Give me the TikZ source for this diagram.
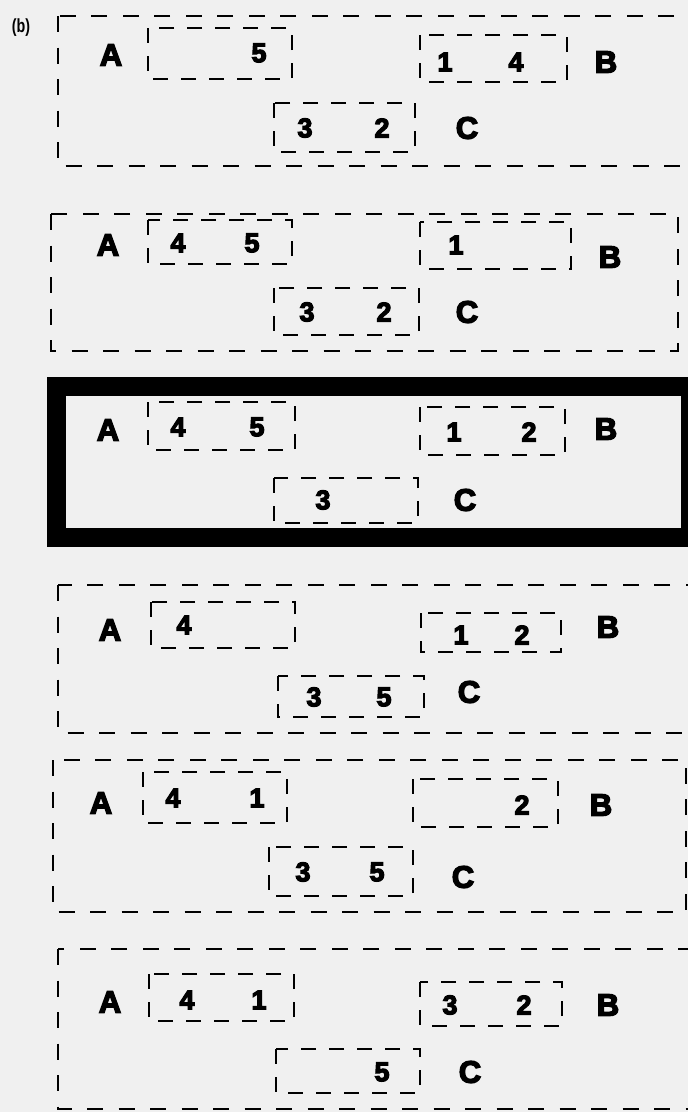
\documentclass[tikz,border=0pt]{standalone}
\usepackage{fontspec}
\setmainfont{Liberation Sans}
\newfontfamily\heavyfont[FakeBold=4.5]{Liberation Sans}
\usetikzlibrary{positioning}
\definecolor{paper}{RGB}{240,240,240}
\tikzset{
  outer/.style={line width=2.8pt, dash pattern=on 16pt off 15.5pt},
  inner/.style={line width=2.6pt, dash pattern=on 15pt off 13pt},
  heavy/.style={line width=18.5pt},
  letter/.style={font=\heavyfont\bfseries\fontsize{31}{31}\selectfont, inner sep=0pt},
  digit/.style={font=\heavyfont\bfseries\fontsize{27}{27}\selectfont, inner sep=0pt},
}

\begin{document}
\begin{tikzpicture}[x=1pt,y=-1pt]
  \fill[paper] (0,0) rectangle (688,1112);
  \useasboundingbox (0,0) rectangle (688,1112);
  \clip (0,0) rectangle (688,1112);

  \node[font=\bfseries\fontsize{19}{19}\selectfont, inner sep=0pt] (tag) at (21,28) {\scalebox{0.75}[1]{(b)}};

  % panel 1
  \draw[outer] (58,16) rectangle (720,166);
  \node[letter] (A1) at (111,55) {A};
  \node[letter] (B1) at (606,62) {B};
  \node[letter] (C1) at (467,128) {C};
  \draw[inner] (148,28) rectangle (292,79);
  \draw[inner] (420,35) rectangle (567,82);
  \draw[inner] (274,103) rectangle (415,152);
  \node[digit] (p1a5) at (259,53) {5};
  \node[digit] (p1b1) at (445,62) {1};
  \node[digit] (p1b4) at (516,62) {4};
  \node[digit] (p1c3) at (305,128) {3};
  \node[digit] (p1c2) at (382,128) {2};

  % panel 2
  \draw[outer] (51,214) rectangle (678,351);
  \node[letter] (A2) at (108,245) {A};
  \node[letter] (B2) at (610,257) {B};
  \node[letter] (C2) at (467,312) {C};
  \draw[inner] (148,220) rectangle (292,264);
  \draw[inner] (420,222) rectangle (571,269);
  \draw[inner] (274,288) rectangle (419,335);
  \node[digit] (p2a4) at (178,243) {4};
  \node[digit] (p2a5) at (252,243) {5};
  \node[digit] (p2b1) at (456,245) {1};
  \node[digit] (p2c3) at (307,312) {3};
  \node[digit] (p2c2) at (384,312) {2};

  % panel 3 (chosen one)
  \draw[heavy] (56.5,386.5) rectangle (690,537.5);
  \node[letter] (A3) at (108,430) {A};
  \node[letter] (B3) at (606,429) {B};
  \node[letter] (C3) at (465,500) {C};
  \draw[inner] (148,402) rectangle (295,450);
  \draw[inner] (420,407) rectangle (565,455);
  \draw[inner] (274,478) rectangle (418,523);
  \node[digit] (p3a4) at (178,427) {4};
  \node[digit] (p3a5) at (257,427) {5};
  \node[digit] (p3b1) at (454,432) {1};
  \node[digit] (p3b2) at (529,432) {2};
  \node[digit] (p3c3) at (323,500) {3};

  % panel 4
  \draw[outer] (58,585) rectangle (720,733);
  \node[letter] (A4) at (110,630) {A};
  \node[letter] (B4) at (608,627) {B};
  \node[letter] (C4) at (469,692) {C};
  \draw[inner] (151,602) rectangle (295,648);
  \draw[inner] (421,613) rectangle (561,652);
  \draw[inner] (278,676) rectangle (424,717);
  \node[digit] (p4a4) at (184,625) {4};
  \node[digit] (p4b1) at (461,635) {1};
  \node[digit] (p4b2) at (522,635) {2};
  \node[digit] (p4c3) at (314,697) {3};
  \node[digit] (p4c5) at (384,697) {5};

  % panel 5
  \draw[outer] (53,760) rectangle (686,912);
  \node[letter] (A5) at (101,803) {A};
  \node[letter] (B5) at (601,805) {B};
  \node[letter] (C5) at (463,877) {C};
  \draw[inner] (143,772) rectangle (287,823);
  \draw[inner] (413,779) rectangle (558,827);
  \draw[inner] (269,847) rectangle (413,896);
  \node[digit] (p5a4) at (173,798) {4};
  \node[digit] (p5a1) at (257,798) {1};
  \node[digit] (p5b2) at (522,805) {2};
  \node[digit] (p5c3) at (303,872) {3};
  \node[digit] (p5c5) at (377,872) {5};

  % panel 6
  \draw[outer] (58,949) rectangle (720,1109);
  \node[letter] (A6) at (110,1002) {A};
  \node[letter] (B6) at (608,1005) {B};
  \node[letter] (C6) at (470,1072) {C};
  \draw[inner] (149,974) rectangle (294,1021);
  \draw[inner] (420,982) rectangle (562,1026);
  \draw[inner] (276,1049) rectangle (420,1093);
  \node[digit] (p6a4) at (187,1000) {4};
  \node[digit] (p6a1) at (259,1000) {1};
  \node[digit] (p6b3) at (450,1005) {3};
  \node[digit] (p6b2) at (524,1005) {2};
  \node[digit] (p6c5) at (382,1072) {5};
\end{tikzpicture}
\end{document}
